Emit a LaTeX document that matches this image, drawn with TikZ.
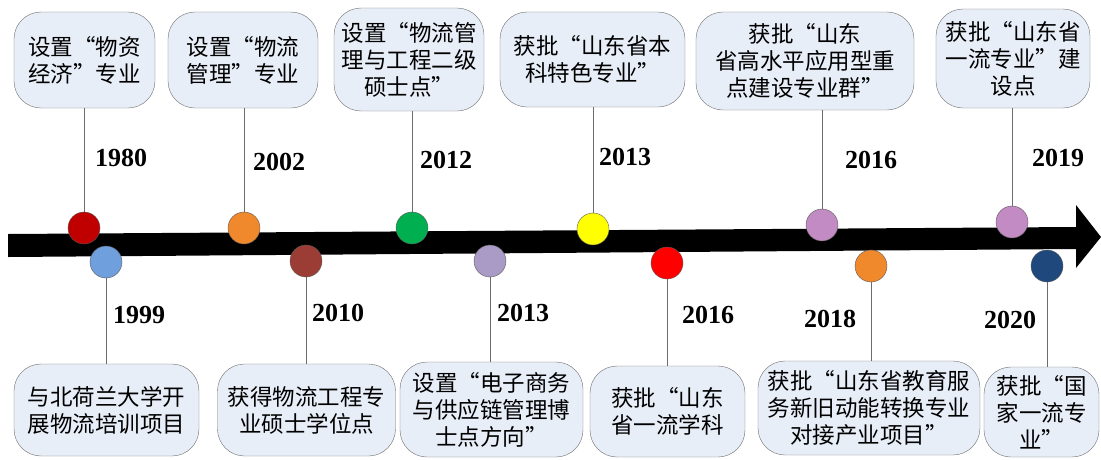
\documentclass[tikz,border=0pt]{standalone}
\usepackage{fontspec}
\setmainfont{Liberation Serif}
\newfontfamily\cjk[RawFeature={+fwid}]{Noto Sans CJK SC}
\definecolor{boxfill}{RGB}{232,238,248}
\definecolor{dotred}{RGB}{192,0,0}
\definecolor{dotblue}{RGB}{111,159,220}
\definecolor{dotorange}{RGB}{240,137,44}
\definecolor{dotbrown}{RGB}{155,61,53}
\definecolor{dotgreen}{RGB}{0,176,80}
\definecolor{dotlav}{RGB}{169,155,197}
\definecolor{dotyellow}{RGB}{255,255,0}
\definecolor{dotbright}{RGB}{255,0,0}
\definecolor{dotpink}{RGB}{195,139,195}
\definecolor{dotnavy}{RGB}{31,73,125}

\begin{document}
\begin{tikzpicture}[x=1pt,y=-1pt,
  evbox/.style={draw=gray!85!black, fill=boxfill, rounded corners=27pt, align=center,
    inner sep=2pt, font=\cjk\fontsize{22.5}{27}\selectfont},
  evdot/.style={circle, draw=gray!70!black, minimum size=32pt, inner sep=0pt},
  yeartext/.style={font=\bfseries\fontsize{26}{28}\selectfont},
  stem/.style={draw=gray!85!black, line width=0.8pt}]
\useasboundingbox (0,0) rectangle (1101,459);

\fill[black] (8,234) -- (1076,227) -- (1076,205) -- (1101,237) -- (1076,268) -- (1076,249) -- (8,257) -- cycle;

\node[evbox, minimum width=141, minimum height=96] (t1) at (84.5,60) {设置“物资\\经济”专业};
\node[evbox, minimum width=150, minimum height=96] (t2) at (243,60) {设置“物流\\管理”专业};
\node[evbox, minimum width=150, minimum height=103] (t3) at (409,59.5) {设置“物流管\\理与工程二级\\硕士点”};
\node[evbox, minimum width=185, minimum height=95] (t4) at (592.5,59.5) {获批“山东省本\\科特色专业”};
\node[evbox, minimum width=218, minimum height=98] (t5) at (805,61) {获批“山东\\省高水平应用型重\\点建设专业群”};
\node[evbox, minimum width=154, minimum height=99] (t6) at (1013,58.5) {获批“山东省\\一流专业”建\\设点};

\node[evbox, minimum width=185, minimum height=92] (b1) at (106.5,410) {与北荷兰大学开\\展物流培训项目};
\node[evbox, minimum width=178, minimum height=92] (b2) at (306.5,410) {获得物流工程专\\业硕士学位点};
\node[evbox, minimum width=183, minimum height=95] (b3) at (491.5,409.5) {设置“电子商务\\与供应链管理博\\士点方向”};
\node[evbox, minimum width=155, minimum height=91] (b4) at (667.5,411.5) {获批“山东\\省一流学科};
\node[evbox, minimum width=222, minimum height=94] (b5) at (869,408) {获批“山东省教育服\\务新旧动能转换专业\\对接产业项目”};
\node[evbox, minimum width=115, minimum height=90] (b6) at (1041.5,412) {获批“国\\家一流专\\业”};

\foreach \n/\x/\y/\c in {d1980/84/228/dotred, d2002/244/228/dotorange, d2012/412/228/dotgreen,
    d2013a/593/229/dotyellow, d2016a/822/225/dotpink, d2019/1012/222/dotpink,
    d1999/106/262/dotblue, d2010/306/261/dotbrown, d2013b/490/261/dotlav,
    d2016b/667/263/dotbright, d2018/871/266/dotorange, d2020/1047/266/dotnavy}
  \node[evdot, fill=\c] (\n) at (\x,\y) {};

\draw[stem] (d1980.north) -- (d1980.north |- t1.south);
\draw[stem] (d2002.north) -- (d2002.north |- t2.south);
\draw[stem] (d2012.north) -- (d2012.north |- t3.south);
\draw[stem] (d2013a.north) -- (d2013a.north |- t4.south);
\draw[stem] (d2016a.north) -- (d2016a.north |- t5.south);
\draw[stem] (d2019.north) -- (d2019.north |- t6.south);
\draw[stem] (d1999.south) -- (d1999.south |- b1.north);
\draw[stem] (d2010.south) -- (d2010.south |- b2.north);
\draw[stem] (d2013b.south) -- (d2013b.south |- b3.north);
\draw[stem] (d2016b.south) -- (d2016b.south |- b4.north);
\draw[stem] (d2018.south) -- (d2018.south |- b5.north);
\draw[stem] (d2020.south) -- (d2020.south |- b6.north);

\node[yeartext] (y1980) at (121,158) {1980};
\node[yeartext] (y2002) at (279,162) {2002};
\node[yeartext] (y2012) at (446,160) {2012};
\node[yeartext] (y2013a) at (625,157) {2013};
\node[yeartext] (y2016a) at (871,160) {2016};
\node[yeartext] (y2019) at (1058,158) {2019};
\node[yeartext] (y1999) at (139,315) {1999};
\node[yeartext] (y2010) at (338,313) {2010};
\node[yeartext] (y2013b) at (523,313) {2013};
\node[yeartext] (y2016b) at (708,315) {2016};
\node[yeartext] (y2018) at (830,319) {2018};
\node[yeartext] (y2020) at (1010,320) {2020};
\end{tikzpicture}
\end{document}
